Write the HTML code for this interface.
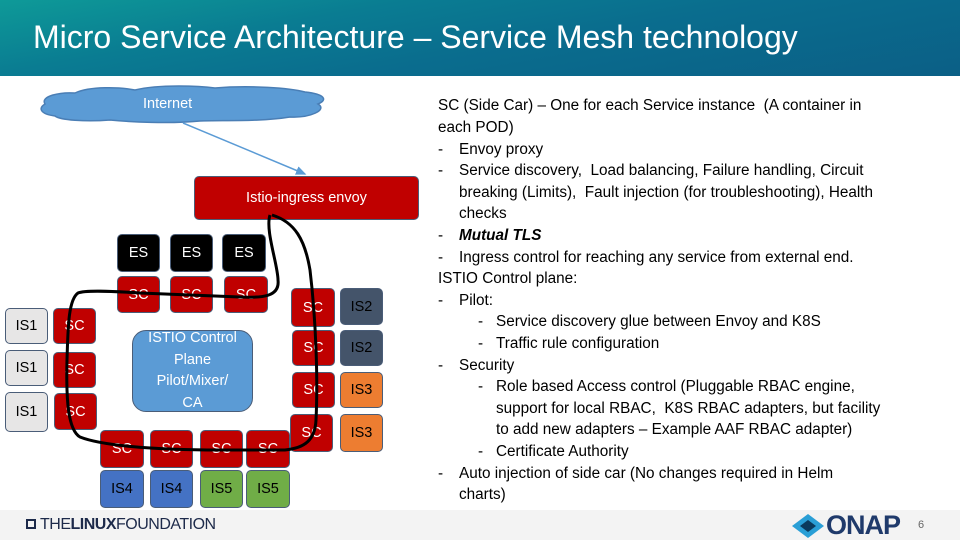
<!DOCTYPE html>
<html><head><meta charset="utf-8"><style>
*{margin:0;padding:0;box-sizing:border-box}
body{width:960px;height:540px;position:relative;overflow:hidden;background:#fff;font-family:"Liberation Sans",sans-serif}
.hdr{position:absolute;left:0;top:0;width:960px;height:76px;background:linear-gradient(170deg,#0e9a98 0%,#0a7c92 30%,#0a6d8e 55%,#0b5f86 100%)}
.hdr h1{position:absolute;left:33px;top:19px;color:#fff;font-weight:normal;font-size:32px;letter-spacing:0px;white-space:nowrap}
.b{position:absolute;display:flex;align-items:center;justify-content:center;font-size:14.5px;color:#fff;border:1.5px solid #4a5d78;border-radius:5px}
.r{background:#c00000}.k{background:#000}.g{background:#e7e6e6;color:#000}.d{background:#44546a;color:#000}.o{background:#ed7d31;color:#000}.bl{background:#4472c4;color:#000}.gr{background:#70ad47;color:#000}
.t{position:absolute;font-size:15.3px;color:#000;white-space:nowrap;line-height:18px}
.foot{position:absolute;left:0;top:510px;width:960px;height:30px;background:#f3f3f3}
</style></head><body>
<div class="hdr"><h1>Micro Service Architecture – Service Mesh technology</h1></div>

<svg style="position:absolute;left:0;top:0" width="430" height="520">
<defs><marker id="ar" markerWidth="8" markerHeight="8" refX="6" refY="3" orient="auto"><path d="M0,0 L7,3 L0,6z" fill="#5b9bd5"/></marker></defs>
<path d="M45,104 C40,96 60,92 75,93 C90,86 120,87 135,90 C160,84 200,86 215,88 C250,85 290,88 305,92 C325,94 328,100 318,104 C328,110 310,118 290,117 C260,122 220,120 200,121 C170,124 130,122 110,120 C85,122 60,120 55,116 C40,114 38,108 45,104z" fill="#5b9bd5" stroke="#4a7eb5" stroke-width="1.5"/>
<line x1="183" y1="123" x2="305" y2="174" stroke="#5b9bd5" stroke-width="1.5" marker-end="url(#ar)"/>
</svg>
<div class="t" style="left:143px;top:95px;color:#fff;font-size:14.5px">Internet</div>

<div class="b r" style="left:194px;top:176px;width:225px;height:44px">Istio-ingress envoy</div>

<div class="b k" style="left:117px;top:234px;width:43px;height:38px">ES</div>
<div class="b k" style="left:170px;top:234px;width:43px;height:38px">ES</div>
<div class="b k" style="left:222px;top:234px;width:44px;height:38px">ES</div>
<div class="b r" style="left:117px;top:276px;width:43px;height:37px">SC</div>
<div class="b r" style="left:170px;top:276px;width:43px;height:37px">SC</div>
<div class="b r" style="left:224px;top:276px;width:44px;height:37px">SC</div>

<div class="b g" style="left:5px;top:308px;width:43px;height:36px">IS1</div>
<div class="b g" style="left:5px;top:350px;width:43px;height:36px">IS1</div>
<div class="b g" style="left:5px;top:392px;width:43px;height:40px">IS1</div>
<div class="b r" style="left:53px;top:308px;width:43px;height:36px">SC</div>
<div class="b r" style="left:53px;top:352px;width:43px;height:36px">SC</div>
<div class="b r" style="left:54px;top:393px;width:43px;height:37px">SC</div>

<div class="b" style="left:132px;top:330px;width:121px;height:82px;background:#5b9bd5;border-radius:14px;line-height:21.5px;text-align:center;font-size:14.5px">ISTIO Control<br>Plane<br>Pilot/Mixer/<br>CA</div>

<div class="b r" style="left:291px;top:288px;width:44px;height:39px">SC</div>
<div class="b r" style="left:292px;top:330px;width:43px;height:36px">SC</div>
<div class="b r" style="left:292px;top:372px;width:43px;height:36px">SC</div>
<div class="b r" style="left:290px;top:414px;width:43px;height:38px">SC</div>
<div class="b d" style="left:340px;top:288px;width:43px;height:37px">IS2</div>
<div class="b d" style="left:340px;top:330px;width:43px;height:36px">IS2</div>
<div class="b o" style="left:340px;top:372px;width:43px;height:36px">IS3</div>
<div class="b o" style="left:340px;top:414px;width:43px;height:38px">IS3</div>

<div class="b r" style="left:100px;top:430px;width:44px;height:38px">SC</div>
<div class="b r" style="left:150px;top:430px;width:43px;height:38px">SC</div>
<div class="b r" style="left:200px;top:430px;width:43px;height:38px">SC</div>
<div class="b r" style="left:246px;top:430px;width:44px;height:38px">SC</div>
<div class="b bl" style="left:100px;top:470px;width:44px;height:38px">IS4</div>
<div class="b bl" style="left:150px;top:470px;width:43px;height:38px">IS4</div>
<div class="b gr" style="left:200px;top:470px;width:43px;height:38px">IS5</div>
<div class="b gr" style="left:246px;top:470px;width:44px;height:38px">IS5</div>

<svg style="position:absolute;left:0;top:0" width="430" height="520">
<path d="M270,215 C265,230 278,265 278,280 C280,297 262,298 240,297 L140,293 C110,291 85,290 78,293 C68,300 68,330 67,360 C66,400 68,430 80,437 C100,445 150,450 220,450 L285,450 C305,448 315,440 316,420 C318,380 316,320 310,270 C305,240 295,222 272,215" fill="none" stroke="#000" stroke-width="3"/>
</svg>

<div class="t" style="left:438px;top:97px">SC (Side Car) – One for each Service instance&nbsp; (A container in</div>
<div class="t" style="left:438px;top:119px">each POD)</div>
<div class="t" style="left:438px;top:141px">-</div><div class="t" style="left:459px;top:141px">Envoy proxy</div>
<div class="t" style="left:438px;top:162px">-</div><div class="t" style="left:459px;top:162px">Service discovery,&nbsp; Load balancing, Failure handling, Circuit</div>
<div class="t" style="left:459px;top:184px">breaking (Limits),&nbsp; Fault injection (for troubleshooting), Health</div>
<div class="t" style="left:459px;top:205px">checks</div>
<div class="t" style="left:438px;top:227px">-</div><div class="t" style="left:459px;top:227px;font-weight:bold;font-style:italic">Mutual TLS</div>
<div class="t" style="left:438px;top:249px">-</div><div class="t" style="left:459px;top:249px">Ingress control for reaching any service from external end.</div>
<div class="t" style="left:438px;top:270px">ISTIO Control plane:</div>
<div class="t" style="left:438px;top:292px">-</div><div class="t" style="left:459px;top:292px">Pilot:</div>
<div class="t" style="left:478px;top:313px">-</div><div class="t" style="left:496px;top:313px">Service discovery glue between Envoy and K8S</div>
<div class="t" style="left:478px;top:335px">-</div><div class="t" style="left:496px;top:335px">Traffic rule configuration</div>
<div class="t" style="left:438px;top:357px">-</div><div class="t" style="left:459px;top:357px">Security</div>
<div class="t" style="left:478px;top:378px">-</div><div class="t" style="left:496px;top:378px">Role based Access control (Pluggable RBAC engine,</div>
<div class="t" style="left:496px;top:400px">support for local RBAC,&nbsp; K8S RBAC adapters, but facility</div>
<div class="t" style="left:496px;top:421px">to add new adapters – Example AAF RBAC adapter)</div>
<div class="t" style="left:478px;top:443px">-</div><div class="t" style="left:496px;top:443px">Certificate Authority</div>
<div class="t" style="left:438px;top:465px">-</div><div class="t" style="left:459px;top:465px">Auto injection of side car (No changes required in Helm</div>
<div class="t" style="left:459px;top:486px">charts)</div>

<div class="foot"></div>
<div style="position:absolute;left:26px;top:519px;width:10px;height:10px;border:2px solid #1d2a4a"></div>
<div class="t" style="left:40px;top:516px;font-size:16px;color:#1d2a4a;letter-spacing:-0.5px">THE<b>LINUX</b>FOUNDATION</div>
<svg style="position:absolute;left:788px;top:512px" width="40" height="28"><polygon points="20,2 36,14 20,26 4,14" fill="#2a9fd6"/><polygon points="20,8 28,14 20,20 12,14" fill="#0b3a5c"/></svg>
<div class="t" style="left:826px;top:510px;font-size:27px;line-height:30px;font-weight:bold;color:#1f3a6b;letter-spacing:-1px">ONAP</div>
<div class="t" style="left:918px;top:516px;font-size:11px;color:#666">6</div>
</body></html>
